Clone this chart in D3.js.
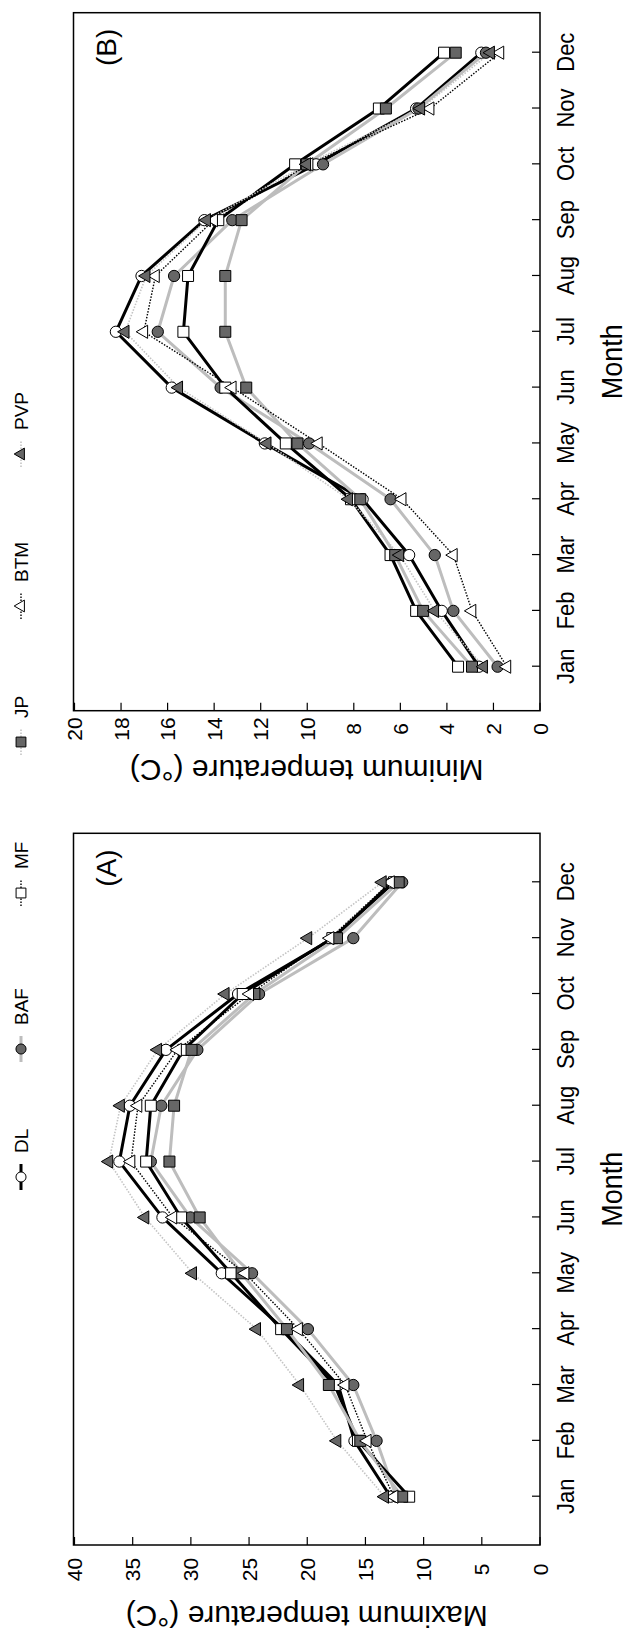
<!DOCTYPE html>
<html>
<head>
<meta charset="utf-8">
<script src="https://cdn.jsdelivr.net/npm/d3@7"></script>
<style>
  body { margin: 0; background: #fff; }
  svg { display: block; }
  text { font-family: "Liberation Sans", Arial, Helvetica, sans-serif; fill: #000; }
</style>
</head>
<body>
<script>
// month categories
const months = ["Jan", "Feb", "Mar", "Apr", "May", "Jun", "Jul", "Aug", "Sep", "Oct", "Nov", "Dec"];

// (A) maximum temperature, deg C
const maxDL  = [12.8, 15.9, 17.3, 22.0, 27.3, 32.4, 36.1, 35.2, 32.1, 25.9, 17.7, 12.7];
const maxBAF = [12.3, 14.0, 16.0, 19.9, 24.7, 30.0, 33.4, 32.5, 29.4, 24.1, 16.0, 11.8];
const maxMF  = [11.2, 15.6, 17.6, 22.2, 26.5, 30.8, 33.8, 33.4, 30.6, 25.5, 17.8, 12.5];
const maxJP  = [11.8, 15.4, 18.1, 21.7, 25.6, 29.2, 31.8, 31.4, 29.9, 24.5, 17.4, 12.1];
const maxBTM = [12.5, 14.8, 16.7, 20.7, 25.3, 31.5, 35.1, 34.5, 31.1, 24.9, 18.0, 12.8];
const maxPVP = [13.3, 17.4, 20.6, 24.3, 29.8, 33.9, 37.0, 36.0, 32.8, 27.0, 19.9, 13.5];

// (B) minimum temperature, deg C
const minDL  = [2.6, 4.2, 5.6, 7.6, 11.8, 15.8, 18.2, 17.1, 14.4, 9.6, 5.3, 2.5];
const minBAF = [1.8, 3.7, 4.5, 6.4, 9.9, 13.7, 16.4, 15.7, 13.2, 9.3, 5.2, 2.3];
const minMF  = [3.5, 5.3, 6.4, 8.1, 10.9, 13.5, 15.3, 15.1, 13.8, 10.5, 6.9, 4.1];
const minJP  = [2.9, 5.0, 6.2, 7.7, 10.4, 12.6, 13.5, 13.5, 12.8, 10.0, 6.6, 3.6];
const minBTM = [1.4, 2.9, 3.7, 5.9, 9.5, 13.2, 17.0, 16.5, 14.0, 9.9, 4.7, 1.7];
const minPVP = [2.4, 4.5, 6.0, 8.2, 11.7, 15.5, 17.8, 16.9, 14.3, 10.0, 5.1, 2.1];

const maxTicks = [0, 5, 10, 15, 20, 25, 30, 35, 40];
const minTicks = [0, 2, 4, 6, 8, 10, 12, 14, 16, 18, 20];

const DARK = "#666666", LGREY = "#bdbdbd", DOTGREY = "#c4c4c4";

// line / marker styles as drawn in the plot area
const styles = {
  DL:  {line: "#000", lw: 3,   dash: null,  sym: d3.symbolCircle,   size: 100, fill: "#fff"},
  BAF: {line: LGREY,  lw: 3,   dash: null,  sym: d3.symbolCircle,   size: 100, fill: DARK},
  MF:  {line: "#000", lw: 3,   dash: null,  sym: d3.symbolSquare,   size: 121, fill: "#fff"},
  JP:  {line: LGREY,  lw: 3,   dash: null,  sym: d3.symbolSquare,   size: 121, fill: DARK},
  BTM: {line: "#000", lw: 1.4, dash: "1.5,1.5", sym: d3.symbolTriangle, size: 75, fill: "#fff"},
  PVP: {line: DOTGREY, lw: 1.6, dash: "1.5,1.5", sym: d3.symbolTriangle, size: 75, fill: DARK}
};
// legend line styles (differ from plot for MF / JP, as in the figure)
const legendLine = {
  DL:  {line: "#000", lw: 3, dash: null},
  BAF: {line: LGREY, lw: 3, dash: null},
  MF:  {line: "#000", lw: 1.4, dash: "1.5,1.5"},
  JP:  {line: DOTGREY, lw: 1.6, dash: "1.5,1.5"},
  BTM: {line: "#000", lw: 1.4, dash: "1.5,1.5"},
  PVP: {line: DOTGREY, lw: 1.6, dash: "1.5,1.5"}
};

const panels = [
  {
    tag: "(A)", title: "Maximum temperature (\u00B0C)", ymax: 40, ticks: maxTicks,
    x0: 95, x1: 806.7, jan: 143.3, dec: 757.7, tickLab: 70.5, titleX: 24,
    series: [["DL", maxDL], ["BAF", maxBAF], ["MF", maxMF], ["JP", maxJP], ["BTM", maxBTM], ["PVP", maxPVP]],
    legend: [["DL", 463], ["BAF", 591], ["MF", 747]]
  },
  {
    tag: "(B)", title: "Minimum temperature (\u00B0C)", ymax: 20, ticks: minTicks,
    x0: 929.3, x1: 1627.3, jan: 973.3, dec: 1587.3, tickLab: 911, titleX: 870,
    series: [["DL", minDL], ["BAF", minBAF], ["MF", minMF], ["JP", minJP], ["BTM", minBTM], ["PVP", minPVP]],
    legend: [["JP", 898], ["BTM", 1034], ["PVP", 1186]]
  }
];

const W = 1640;                // figure drawn landscape, then turned a quarter
const plotTop = 73.5, plotBottom = 540;
const stretch = 1.12;          // month text in the figure is a bit tall for its width

const svg = d3.select("body").append("svg")
  .attr("width", 632).attr("height", 1640);

const fig = svg.append("g")
  .attr("transform", "translate(0," + W + ") rotate(-90)");

panels.forEach(p => {
  const x = d3.scalePoint().domain(months).range([p.jan, p.dec]);
  const y = d3.scaleLinear().domain([0, p.ymax]).range([539.5, 74]);

  const g = fig.append("g");

  // month axis (ticks pointing inward)
  const xa = g.append("g")
    .attr("transform", "translate(0," + plotBottom + ")")
    .call(d3.axisBottom(x).tickSizeInner(-8).tickSizeOuter(0));
  xa.select(".domain").remove();
  xa.selectAll("line").attr("stroke", "#000").attr("stroke-width", 1.2);
  xa.selectAll("text")
    .attr("y", null).attr("dy", null)
    .attr("dominant-baseline", "central")
    .attr("transform", "translate(0,26) scale(1," + stretch + ")")
    .style("font-size", "22px").attr("font-family", null);

  // temperature axis
  const ya = g.append("g")
    .attr("transform", "translate(" + p.x0 + ",0)")
    .call(d3.axisLeft(y).tickValues(p.ticks).tickSizeInner(-8).tickSizeOuter(0).tickPadding(0));
  ya.select(".domain").remove();
  ya.selectAll("line").attr("stroke", "#000").attr("stroke-width", 1.2);
  ya.selectAll("text")
    .attr("dy", null)
    .attr("text-anchor", "middle")
    .attr("dominant-baseline", "central")
    .attr("x", p.tickLab - p.x0)
    .style("font-size", "21px").attr("font-family", null);

  // frame
  g.append("rect")
    .attr("x", p.x0).attr("y", plotTop)
    .attr("width", p.x1 - p.x0).attr("height", plotBottom - plotTop)
    .attr("fill", "none").attr("stroke", "#000").attr("stroke-width", 1.5);

  // series lines
  const line = d3.line().x((d, i) => x(months[i])).y(d => y(d));
  p.series.forEach(([name, vals]) => {
    const s = styles[name];
    g.append("path")
      .datum(vals)
      .attr("d", line)
      .attr("fill", "none")
      .attr("stroke", s.line)
      .attr("stroke-width", s.lw)
      .attr("stroke-dasharray", s.dash)
      .attr("stroke-linejoin", "round");
  });

  // series markers
  p.series.forEach(([name, vals]) => {
    const s = styles[name];
    g.append("g").selectAll("path")
      .data(vals)
      .join("path")
      .attr("transform", (d, i) => "translate(" + x(months[i]) + "," + y(d) + ")")
      .attr("d", d3.symbol().type(s.sym).size(s.size))
      .attr("fill", s.fill)
      .attr("stroke", "#000")
      .attr("stroke-width", 1);
  });

  // panel tag
  g.append("text")
    .attr("x", p.x1 - 16).attr("y", 116)
    .attr("text-anchor", "end")
    .style("font-size", "28px")
    .text(p.tag);

  // axis titles
  g.append("text")
    .attr("transform", "translate(" + ((p.x0 + p.x1) / 2) + ",611) scale(1," + stretch + ")")
    .attr("text-anchor", "middle")
    .attr("dominant-baseline", "central")
    .style("font-size", "27px")
    .text("Month");

  g.append("text")
    .attr("transform", "translate(" + p.titleX + "," + ((plotTop + plotBottom) / 2) + ") rotate(-90)")
    .attr("text-anchor", "middle")
    .attr("dominant-baseline", "central")
    .style("font-size", "30px")
    .text(p.title);

  // legend above the panel
  const lg = g.append("g").attr("transform", "translate(0,21)");
  p.legend.forEach(([name, cx]) => {
    const s = styles[name], l = legendLine[name];
    lg.append("line")
      .attr("x1", cx - 13).attr("x2", cx + 13)
      .attr("stroke", l.line).attr("stroke-width", l.lw)
      .attr("stroke-dasharray", l.dash);
    lg.append("path")
      .attr("transform", "translate(" + cx + ",0)")
      .attr("d", d3.symbol().type(s.sym).size(s.size * 0.8))
      .attr("fill", s.fill).attr("stroke", "#000").attr("stroke-width", 1);
    lg.append("text")
      .attr("x", cx + 24)
      .attr("dominant-baseline", "central")
      .style("font-size", "19px")
      .text(name);
  });
});
</script>
</body>
</html>
